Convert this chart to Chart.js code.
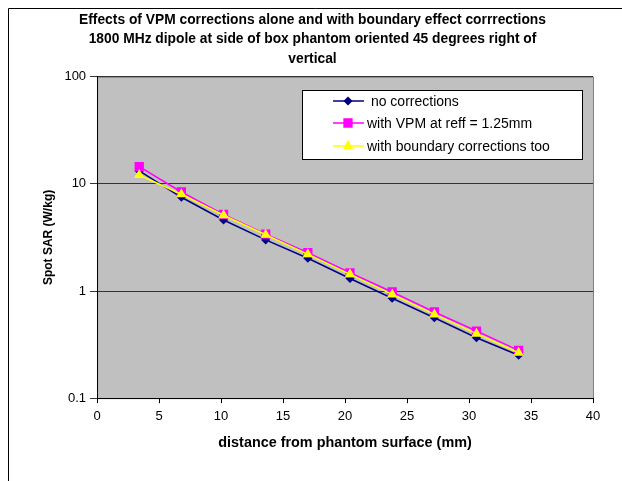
<!DOCTYPE html>
<html>
<head>
<meta charset="utf-8">
<script src="https://cdn.jsdelivr.net/npm/chart.js@4/dist/chart.umd.min.js"></script>
<style>
  html, body { margin: 0; padding: 0; background: #fff; }
  #wrap { width: 622px; height: 481px; position: relative; }
</style>
</head>
<body>
<div id="wrap"><canvas id="chart"></canvas></div>
<script>
// distance from phantom surface (mm)
const distances = [3.4, 6.8, 10.2, 13.6, 17, 20.4, 23.8, 27.2, 30.6, 34];
// spot SAR (W/kg)
const noCorrections = [13.2, 7.5, 4.6, 3.0, 2.02, 1.31, 0.855, 0.563, 0.366, 0.251];
const withVpm = [14.5, 8.4, 5.2, 3.4, 2.28, 1.48, 0.98, 0.637, 0.423, 0.279];
const withBoundary = [12.1, 8.0, 5.1, 3.35, 2.2, 1.43, 0.93, 0.605, 0.40, 0.265];

const seriesNames = [' no corrections', 'with VPM at reff = 1.25mm', 'with boundary corrections too'];
const yTicks = [0.1, 1, 10, 100];
const titleLines = [
    'Effects of VPM corrections alone and with boundary effect corrrections',
    '1800 MHz dipole at side of box phantom oriented 45 degrees right of',
    'vertical'
];

const FONT = '"Liberation Sans", Arial, sans-serif';

function toPoints(ys) {
    return distances.map((x, i) => ({ x: x, y: ys[i] }));
}

// plot background, outer frame and legend box
const excelLook = {
    id: 'excelLook',
    beforeDraw(chart) {
        const { ctx, chartArea: a } = chart;
        ctx.save();
        ctx.fillStyle = '#C0C0C0';
        ctx.fillRect(a.left, a.top, a.right - a.left, a.bottom - a.top);
        ctx.strokeStyle = '#808080';
        ctx.lineWidth = 1;
        ctx.strokeRect(a.left + 0.5, a.top + 0.5, a.right - a.left, a.bottom - a.top);
        // chart frame (left + top only visible)
        ctx.strokeStyle = '#000';
        ctx.beginPath();
        ctx.moveTo(8.5, 481);
        ctx.lineTo(8.5, 8.5);
        ctx.lineTo(622, 8.5);
        ctx.stroke();
        ctx.restore();
    },
    afterDraw(chart) {
        const { ctx } = chart;
        const box = { x: 302, y: 90, w: 280, h: 69 };
        ctx.save();
        ctx.fillStyle = '#fff';
        ctx.fillRect(box.x, box.y, box.w, box.h);
        ctx.strokeStyle = '#000';
        ctx.lineWidth = 1;
        ctx.strokeRect(box.x + 0.5, box.y + 0.5, box.w, box.h);
        ctx.font = '14px ' + FONT;
        ctx.textBaseline = 'middle';
        ctx.fillStyle = '#000';
        const rows = [101, 123, 146];
        chart.data.datasets.forEach((ds, i) => {
            const y = rows[i];
            ctx.strokeStyle = ds.borderColor;
            ctx.lineWidth = 1.5;
            ctx.beginPath();
            ctx.moveTo(333, y);
            ctx.lineTo(364, y);
            ctx.stroke();
            Chart.helpers.drawPoint(ctx, {
                pointStyle: ds.pointStyle,
                radius: ds.pointRadius,
                borderWidth: 1
            }, 348, y);
            ctx.fillStyle = ds.pointBackgroundColor;
            ctx.strokeStyle = ds.pointBorderColor;
            ctx.fill();
            ctx.fillStyle = '#000';
            ctx.fillText(ds.label, 367, y + 1);
        });
        ctx.restore();
    }
};

new Chart(document.getElementById('chart'), {
    type: 'line',
    data: {
        datasets: [
            {
                label: seriesNames[0],
                data: toPoints(noCorrections),
                borderColor: '#000080',
                backgroundColor: '#000080',
                pointBackgroundColor: '#000080',
                pointBorderColor: '#000080',
                pointStyle: 'rectRot',
                pointRadius: 3.5,
                borderWidth: 1.5,
                order: 3
            },
            {
                label: seriesNames[1],
                data: toPoints(withVpm),
                borderColor: '#FF00FF',
                backgroundColor: '#FF00FF',
                pointBackgroundColor: '#FF00FF',
                pointBorderColor: '#FF00FF',
                pointStyle: 'rect',
                pointRadius: 5.5,
                borderWidth: 1.5,
                order: 2
            },
            {
                label: seriesNames[2],
                data: toPoints(withBoundary),
                borderColor: '#FFFF00',
                backgroundColor: '#FFFF00',
                pointBackgroundColor: '#FFFF00',
                pointBorderColor: '#FFFF00',
                pointStyle: 'triangle',
                pointRadius: 4.5,
                borderWidth: 1.5,
                order: 1
            }
        ]
    },
    options: {
        responsive: true,
        maintainAspectRatio: false,
        animation: false,
        events: [],
        layout: {
            padding: { top: 8, left: 32, right: 29, bottom: 29 }
        },
        plugins: {
            legend: { display: false },
            tooltip: { enabled: false },
            title: {
                display: true,
                text: titleLines,
                color: '#000',
                font: { family: FONT, size: 13.8, weight: 'bold', lineHeight: 1.42 },
                padding: { top: 2, bottom: 8 }
            }
        },
        scales: {
            x: {
                type: 'linear',
                min: 0,
                max: 40,
                border: { color: '#000', width: 1 },
                grid: { drawOnChartArea: false, tickLength: 5, color: '#000' },
                ticks: {
                    stepSize: 5,
                    color: '#000',
                    padding: 6,
                    font: { family: FONT, size: 13 }
                },
                title: {
                    display: true,
                    text: 'distance from phantom surface (mm)',
                    color: '#000',
                    font: { family: FONT, size: 14.4, weight: 'bold' },
                    padding: { top: 4, bottom: 0 }
                }
            },
            y: {
                type: 'logarithmic',
                min: 0.1,
                max: 100,
                border: { color: '#000', width: 1 },
                grid: { color: '#333', tickLength: 7 },
                afterBuildTicks(scale) {
                    scale.ticks = yTicks.map(v => ({ value: v }));
                },
                ticks: {
                    color: '#000',
                    padding: 4,
                    font: { family: FONT, size: 13 },
                    callback: v => String(v)
                },
                title: {
                    display: true,
                    text: 'Spot SAR (W/kg)',
                    color: '#000',
                    font: { family: FONT, size: 12, weight: 'bold' },
                    padding: { top: 9, bottom: 5 }
                }
            }
        }
    },
    plugins: [excelLook]
});
</script>
</body>
</html>
